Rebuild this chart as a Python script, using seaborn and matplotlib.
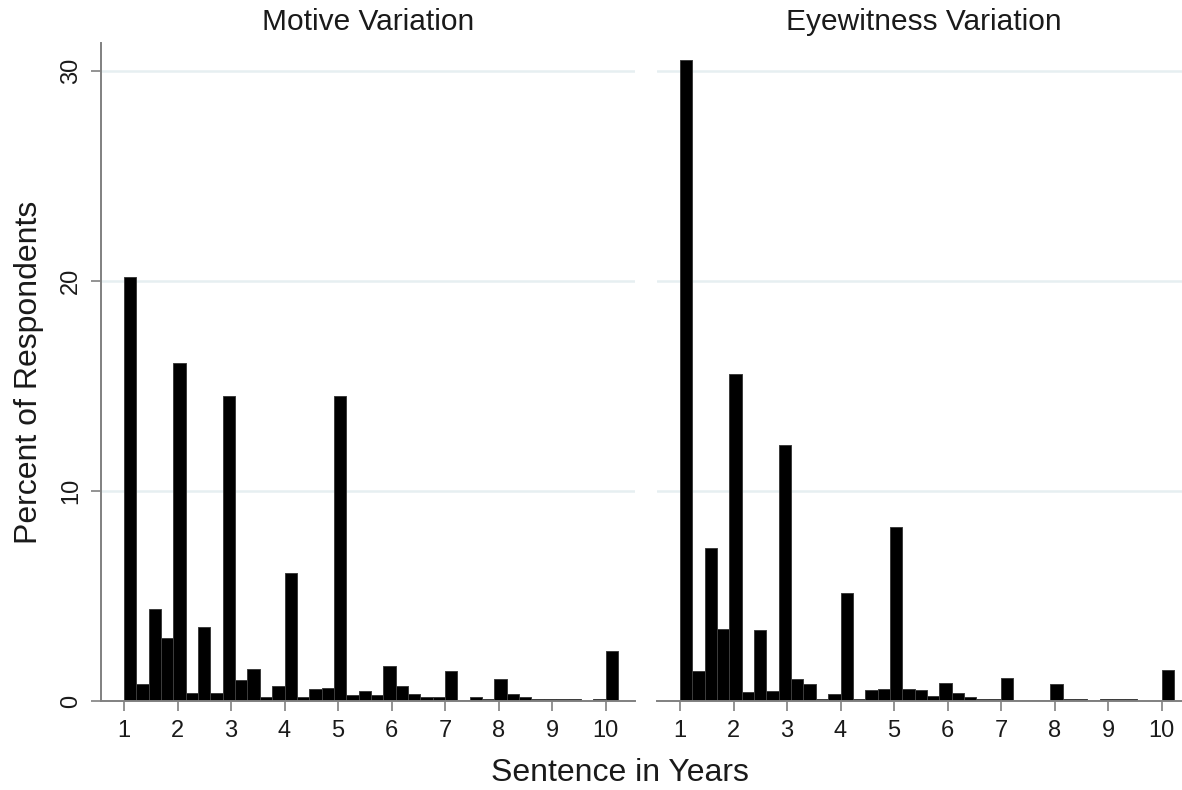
import numpy as np
import pandas as pd
import matplotlib
matplotlib.use("Agg")
import matplotlib.pyplot as plt
import seaborn as sns

# Histogram layout: 40 equal-width bins starting at 1 year
bin_start = 1.0
bin_width = 9 / 39
n_bins = 40

# Percent of respondents in each bin
motive_pct = [20.2, 0.8, 4.4, 3.0, 16.1, 0.4, 3.5, 0.4, 14.5, 1.0,
              1.5, 0.2, 0.7, 6.1, 0.2, 0.57, 0.64, 14.5, 0.3, 0.48,
              0.3, 1.65, 0.71, 0.35, 0.19, 0.19, 1.41, 0.07, 0.19, 0.1,
              1.07, 0.35, 0.17, 0.1, 0.08, 0.08, 0.1, 0.0, 0.1, 2.38]
eyewitness_pct = [30.5, 1.43, 7.3, 3.45, 15.55, 0.43, 3.37, 0.46, 12.2, 1.05,
                  0.8, 0.1, 0.35, 5.15, 0.1, 0.54, 0.57, 8.27, 0.55, 0.51,
                  0.26, 0.88, 0.37, 0.19, 0.08, 0.1, 1.11, 0.07, 0.07, 0.07,
                  0.8, 0.1, 0.1, 0.07, 0.08, 0.08, 0.08, 0.0, 0.0, 1.46]

panel_titles = ["Motive Variation", "Eyewitness Variation"]
x_ticks = list(range(1, 11))
y_ticks = [0, 10, 20, 30]

bin_end = bin_start + n_bins * bin_width
mids = bin_start + bin_width * (np.arange(n_bins) + 0.5)

sns.set_theme(style="white")
plt.rcParams["font.family"] = ["Liberation Sans", "DejaVu Sans"]
text_color = "#1a1a1a"
axis_color = "#808080"

fig = plt.figure(figsize=(11.82, 7.9), dpi=100)
W, H = 1182, 790
ax_w = 534 / W
ax_h = (701 - 43) / H
ax_b = (H - 701) / H
axes = [fig.add_axes([101 / W, ax_b, ax_w, ax_h]),
        fig.add_axes([657 / W, ax_b, ax_w, ax_h])]

for i, (ax, pct, title) in enumerate(zip(axes, [motive_pct, eyewitness_pct], panel_titles)):
    df = pd.DataFrame({"sentence": mids, "percent": pct})
    ax.set_axisbelow(True)
    for yv in y_ticks[1:]:
        ax.axhline(yv, color="#e6eff1", lw=1.8, zorder=0)
    sns.histplot(data=df, x="sentence", weights="percent",
                 binwidth=bin_width, binrange=(bin_start, bin_end),
                 stat="count", color="black", alpha=1.0,
                 edgecolor="#3c3c3c", linewidth=0.7, ax=ax)
    ax.set_xlim(0.57, 10.55)
    ax.set_ylim(0, 31.33)
    ax.set_xticks(x_ticks)
    ax.set_xticklabels([str(t) for t in x_ticks])
    ax.set_xlabel("")
    ax.set_ylabel("")
    ax.set_title(title, fontsize=21.5, color=text_color, pad=9)
    for side in ["top", "right"]:
        ax.spines[side].set_visible(False)
    ax.spines["bottom"].set_color(axis_color)
    ax.spines["bottom"].set_linewidth(1.4)
    ax.tick_params(axis="x", direction="out", length=7.5, width=1.2,
                   color=axis_color, labelsize=17, labelcolor=text_color,
                   pad=6, bottom=True)
    if i == 0:
        ax.spines["left"].set_color(axis_color)
        ax.spines["left"].set_linewidth(1.4)
        ax.set_yticks(y_ticks)
        ax.set_yticklabels([str(t) for t in y_ticks], rotation=90,
                           va="center", ha="right")
        ax.tick_params(axis="y", direction="out", length=7.5, width=1.2,
                       color=axis_color, labelsize=17, labelcolor=text_color,
                       pad=6, left=True)
        ax.set_ylabel("Percent of Respondents", fontsize=23,
                      color=text_color, labelpad=12)
    else:
        ax.spines["left"].set_visible(False)
        ax.set_yticks(y_ticks)
        ax.tick_params(axis="y", left=False, labelleft=False)

fig.text(620 / W, 1 - 773 / H, "Sentence in Years", fontsize=23,
         color=text_color, ha="center", va="center")

fig.savefig("out.png", dpi=100, facecolor="white")
